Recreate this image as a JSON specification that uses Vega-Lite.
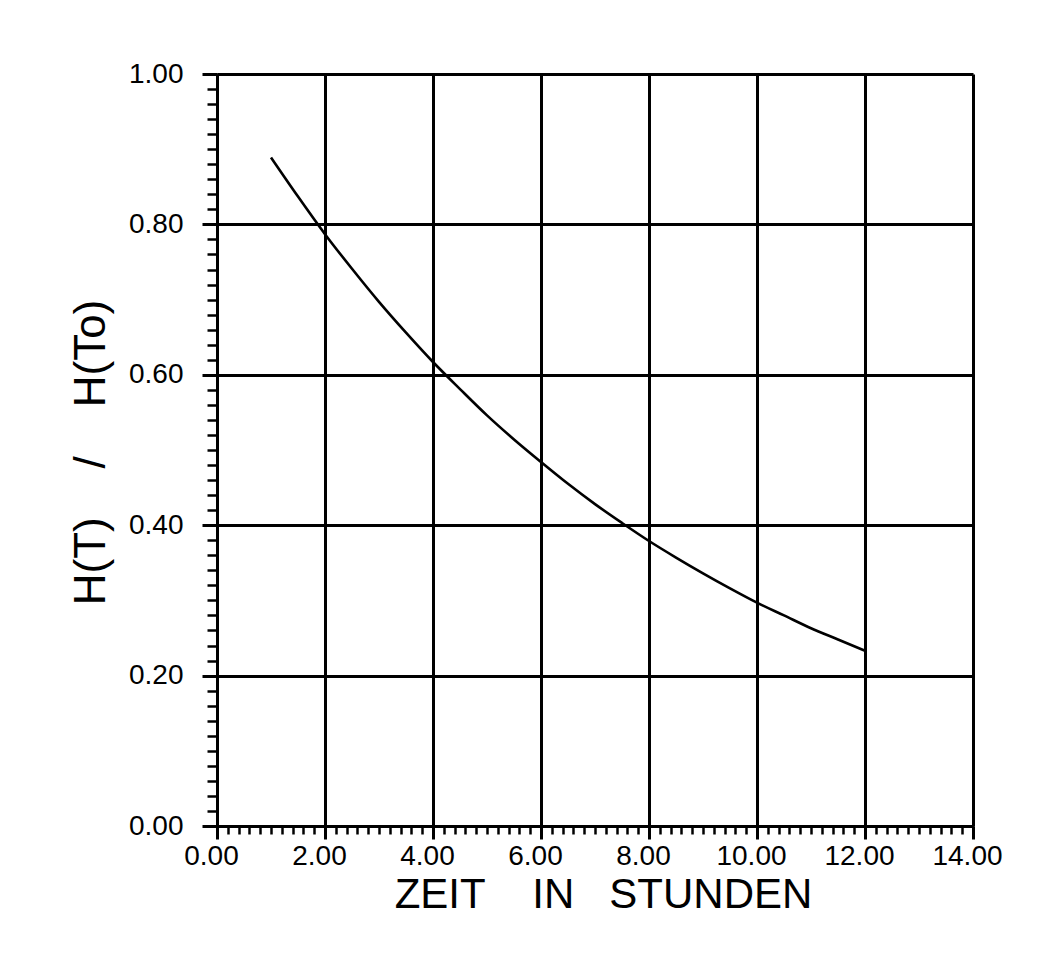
{
  "$schema": "https://vega.github.io/schema/vega-lite/v6.json",
  "width": 756,
  "height": 752,
  "autosize": {"type": "none"},
  "padding": {"left": 217, "top": 74, "right": 83, "bottom": 137},
  "background": "white",
  "config": {"view": {"stroke": null}, "font": "Liberation Sans"},
  "data": {"values": [
    {"t": 1.0, "h": 0.889},
    {"t": 1.5, "h": 0.837},
    {"t": 2.0, "h": 0.787},
    {"t": 2.5, "h": 0.741},
    {"t": 3.0, "h": 0.697},
    {"t": 3.5, "h": 0.656},
    {"t": 4.0, "h": 0.617},
    {"t": 4.5, "h": 0.581},
    {"t": 5.0, "h": 0.546},
    {"t": 5.5, "h": 0.514},
    {"t": 6.0, "h": 0.484},
    {"t": 6.5, "h": 0.455},
    {"t": 7.0, "h": 0.428},
    {"t": 7.5, "h": 0.403},
    {"t": 8.0, "h": 0.379},
    {"t": 8.5, "h": 0.357},
    {"t": 9.0, "h": 0.336},
    {"t": 9.5, "h": 0.316},
    {"t": 10.0, "h": 0.297},
    {"t": 10.5, "h": 0.280},
    {"t": 11.0, "h": 0.263},
    {"t": 11.5, "h": 0.248},
    {"t": 12.0, "h": 0.233}
  ]},
  "layer": [
    {
      "mark": {"type": "line", "color": "black", "strokeWidth": 2.6, "interpolate": "monotone"},
      "encoding": {
        "x": {
          "field": "t", "type": "quantitative",
          "scale": {"domain": [0, 14], "nice": false, "zero": false},
          "axis": {
            "orient": "bottom",
            "values": [0, 2, 4, 6, 8, 10, 12, 14],
            "format": ".2f",
            "grid": true, "gridColor": "black", "gridWidth": 3, "gridOpacity": 1,
            "domainColor": "black", "domainWidth": 3,
            "tickColor": "black", "tickWidth": 3, "tickSize": 13,
            "labelFontSize": 28, "labelColor": "black", "labelPadding": 3, "labelOffset": -6,
            "labelFlush": false, "labelOverlap": false,
            "title": "ZEIT\u00a0\u00a0\u00a0\u00a0IN\u00a0\u00a0\u00a0STUNDEN",
            "titleFontSize": 42, "titleFontWeight": "normal", "titleColor": "black",
            "titleX": 386, "titleAlign": "center",
            "titleY": 81, "titleBaseline": "alphabetic"
          }
        },
        "y": {
          "field": "h", "type": "quantitative",
          "scale": {"domain": [0, 1], "nice": false, "zero": false},
          "axis": {
            "orient": "left",
            "values": [0, 0.2, 0.4, 0.6, 0.8, 1.0],
            "format": ".2f",
            "grid": true, "gridColor": "black", "gridWidth": 3, "gridOpacity": 1,
            "domainColor": "black", "domainWidth": 3,
            "tickColor": "black", "tickWidth": 3, "tickSize": 15,
            "labelFontSize": 28, "labelColor": "black", "labelPadding": 19,
            "labelFlush": false, "labelOverlap": false,
            "title": "H(T)\u00a0\u00a0\u00a0\u00a0/\u00a0\u00a0\u00a0\u00a0H(To)",
            "titleFontSize": 44, "titleFontWeight": "normal", "titleColor": "black",
            "titleX": -113, "titleY": 378, "titleBaseline": "alphabetic", "titleAlign": "center", "titleAngle": -90
          }
        }
      }
    },
    {
      "mark": {"type": "line", "opacity": 0},
      "encoding": {
        "x": {
          "field": "t", "type": "quantitative",
          "axis": {
            "orient": "bottom",
            "values": [0, 0.2, 0.4, 0.6, 0.8, 1, 1.2, 1.4, 1.6, 1.8, 2, 2.2, 2.4, 2.6, 2.8, 3, 3.2, 3.4, 3.6, 3.8, 4, 4.2, 4.4, 4.6, 4.8, 5, 5.2, 5.4, 5.6, 5.8, 6, 6.2, 6.4, 6.6, 6.8, 7, 7.2, 7.4, 7.6, 7.8, 8, 8.2, 8.4, 8.6, 8.8, 9, 9.2, 9.4, 9.6, 9.8, 10, 10.2, 10.4, 10.6, 10.8, 11, 11.2, 11.4, 11.6, 11.8, 12, 12.2, 12.4, 12.6, 12.8, 13, 13.2, 13.4, 13.6, 13.8, 14],
            "grid": false, "labels": false, "domain": false,
            "tickColor": "black", "tickWidth": 2.5, "tickSize": 8,
            "title": null
          }
        },
        "y": {
          "field": "h", "type": "quantitative",
          "axis": {
            "orient": "left",
            "values": [0, 0.02, 0.04, 0.06, 0.08, 0.1, 0.12, 0.14, 0.16, 0.18, 0.2, 0.22, 0.24, 0.26, 0.28, 0.3, 0.32, 0.34, 0.36, 0.38, 0.4, 0.42, 0.44, 0.46, 0.48, 0.5, 0.52, 0.54, 0.56, 0.58, 0.6, 0.62, 0.64, 0.66, 0.68, 0.7, 0.72, 0.74, 0.76, 0.78, 0.8, 0.82, 0.84, 0.86, 0.88, 0.9, 0.92, 0.94, 0.96, 0.98, 1],
            "grid": false, "labels": false, "domain": false,
            "tickColor": "black", "tickWidth": 2.5, "tickSize": 10,
            "title": null
          }
        }
      }
    }
  ],
  "resolve": {"axis": {"x": "independent", "y": "independent"}}
}
